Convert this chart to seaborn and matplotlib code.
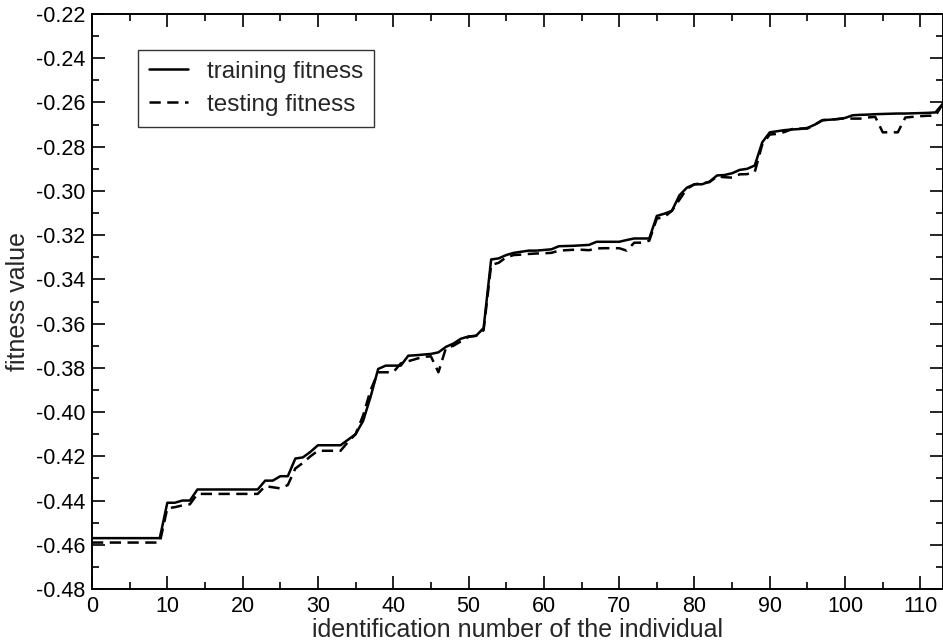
import numpy as np
import pandas as pd
import matplotlib
matplotlib.use("Agg")
import matplotlib.pyplot as plt
from matplotlib.ticker import MultipleLocator, FormatStrFormatter
import seaborn as sns

individual = list(range(0, 114))

training_fitness = [
    -0.457, -0.457, -0.457, -0.457, -0.457, -0.457, -0.457, -0.457, -0.457, -0.457,   # 0-9
    -0.441, -0.441, -0.440, -0.440, -0.435, -0.435, -0.435, -0.435, -0.435, -0.435,   # 10-19
    -0.435, -0.435, -0.435, -0.431, -0.431, -0.429, -0.429, -0.421, -0.4205, -0.418,  # 20-29
    -0.415, -0.415, -0.415, -0.415, -0.4125, -0.410, -0.404, -0.393, -0.3805, -0.379, # 30-39
    -0.379, -0.379, -0.3745, -0.3743, -0.374, -0.3737, -0.373, -0.3705, -0.369, -0.3668,  # 40-49
    -0.3658, -0.3655, -0.362, -0.331, -0.3305, -0.329, -0.328, -0.3275, -0.327, -0.327,   # 50-59
    -0.3267, -0.3264, -0.325, -0.3249, -0.3248, -0.3246, -0.3244, -0.323, -0.323, -0.323, # 60-69
    -0.323, -0.3222, -0.3215, -0.3215, -0.3215, -0.3113, -0.3103, -0.309, -0.302, -0.2985,  # 70-79
    -0.297, -0.297, -0.2958, -0.293, -0.2928, -0.292, -0.2905, -0.290, -0.2885, -0.278,   # 80-89
    -0.2735, -0.273, -0.2725, -0.2722, -0.272, -0.2715, -0.270, -0.268, -0.2678, -0.2675, # 90-99
    -0.267, -0.2658, -0.2656, -0.2655, -0.2653, -0.2652, -0.2651, -0.265, -0.265, -0.2649, # 100-109
    -0.2648, -0.2647, -0.2645, -0.2605,                                                 # 110-113
]

testing_fitness = [
    -0.459, -0.459, -0.459, -0.459, -0.459, -0.459, -0.459, -0.459, -0.459, -0.459,   # 0-9
    -0.4435, -0.443, -0.4422, -0.4417, -0.437, -0.437, -0.437, -0.437, -0.437, -0.437, # 10-19
    -0.437, -0.437, -0.437, -0.4335, -0.434, -0.4345, -0.433, -0.4255, -0.423, -0.420, # 20-29
    -0.4175, -0.4175, -0.4175, -0.4175, -0.4135, -0.410, -0.4015, -0.390, -0.382, -0.382,  # 30-39
    -0.382, -0.378, -0.377, -0.376, -0.375, -0.3748, -0.382, -0.371, -0.370, -0.368,   # 40-49
    -0.366, -0.3655, -0.363, -0.3335, -0.3325, -0.330, -0.329, -0.3288, -0.3285, -0.3283,  # 50-59
    -0.3282, -0.328, -0.327, -0.3268, -0.3266, -0.3266, -0.3268, -0.326, -0.3259, -0.3259, # 60-69
    -0.3259, -0.327, -0.3234, -0.3234, -0.3225, -0.3125, -0.3118, -0.309, -0.304, -0.299,  # 70-79
    -0.297, -0.2965, -0.296, -0.2935, -0.2938, -0.294, -0.2925, -0.2924, -0.2915, -0.279,  # 80-89
    -0.2745, -0.2742, -0.2733, -0.272, -0.2718, -0.2718, -0.270, -0.268, -0.2678, -0.2675, # 90-99
    -0.2672, -0.2673, -0.2673, -0.2668, -0.2665, -0.2735, -0.2735, -0.2735, -0.2668, -0.2665, # 100-109
    -0.2662, -0.266, -0.266, -0.2605,                                                   # 110-113
]

series_names = ["training fitness", "testing fitness"]
x_label = "identification number of the individual"
y_label = "fitness value"

sns.set_style("ticks")
plt.rcParams["font.family"] = ["Liberation Sans", "DejaVu Sans"]

df = pd.DataFrame({
    "individual": individual * 2,
    "fitness": training_fitness + testing_fitness,
    "series": [series_names[0]] * len(individual) + [series_names[1]] * len(individual),
})

fig = plt.figure(figsize=(9.43, 6.41), dpi=100)
ax = fig.add_axes([92 / 943, 52 / 641, 851 / 943, 575 / 641])

sns.lineplot(
    data=df, x="individual", y="fitness", style="series",
    dashes={series_names[0]: "", series_names[1]: (4.5, 2.6)},
    color="black", linewidth=1.8, ax=ax, legend=True,
)

ax.set_xlim(0, 113)
ax.set_ylim(-0.48, -0.22)
ax.xaxis.set_major_locator(MultipleLocator(10))
ax.xaxis.set_minor_locator(MultipleLocator(5))
ax.yaxis.set_major_locator(MultipleLocator(0.02))
ax.yaxis.set_minor_locator(MultipleLocator(0.01))
ax.yaxis.set_major_formatter(FormatStrFormatter("%.2f"))

ax.tick_params(which="both", direction="in", top=True, right=True, width=1.2, colors="black")
ax.tick_params(which="major", length=9.5, labelsize=15.5, pad=5)
ax.tick_params(which="minor", length=5)
for s in ax.spines.values():
    s.set_linewidth(1.4)
    s.set_color("black")

ax.set_xlabel(x_label, fontsize=18, labelpad=1)
ax.set_ylabel(y_label, fontsize=18, labelpad=4)

leg = ax.legend(
    handles=ax.get_legend().legend_handles, labels=series_names,
    loc="upper left", bbox_to_anchor=(46 / 851, 1 - 36 / 575),
    fontsize=17.5, frameon=True, fancybox=False, edgecolor="black",
    handlelength=1.6, handletextpad=0.8, borderpad=0.45, labelspacing=0.45,
    borderaxespad=0,
)
leg.get_frame().set_linewidth(1.0)
for h in leg.legend_handles:
    h.set_color("black")
    h.set_linewidth(1.8)

fig.savefig("out.png", dpi=100)
